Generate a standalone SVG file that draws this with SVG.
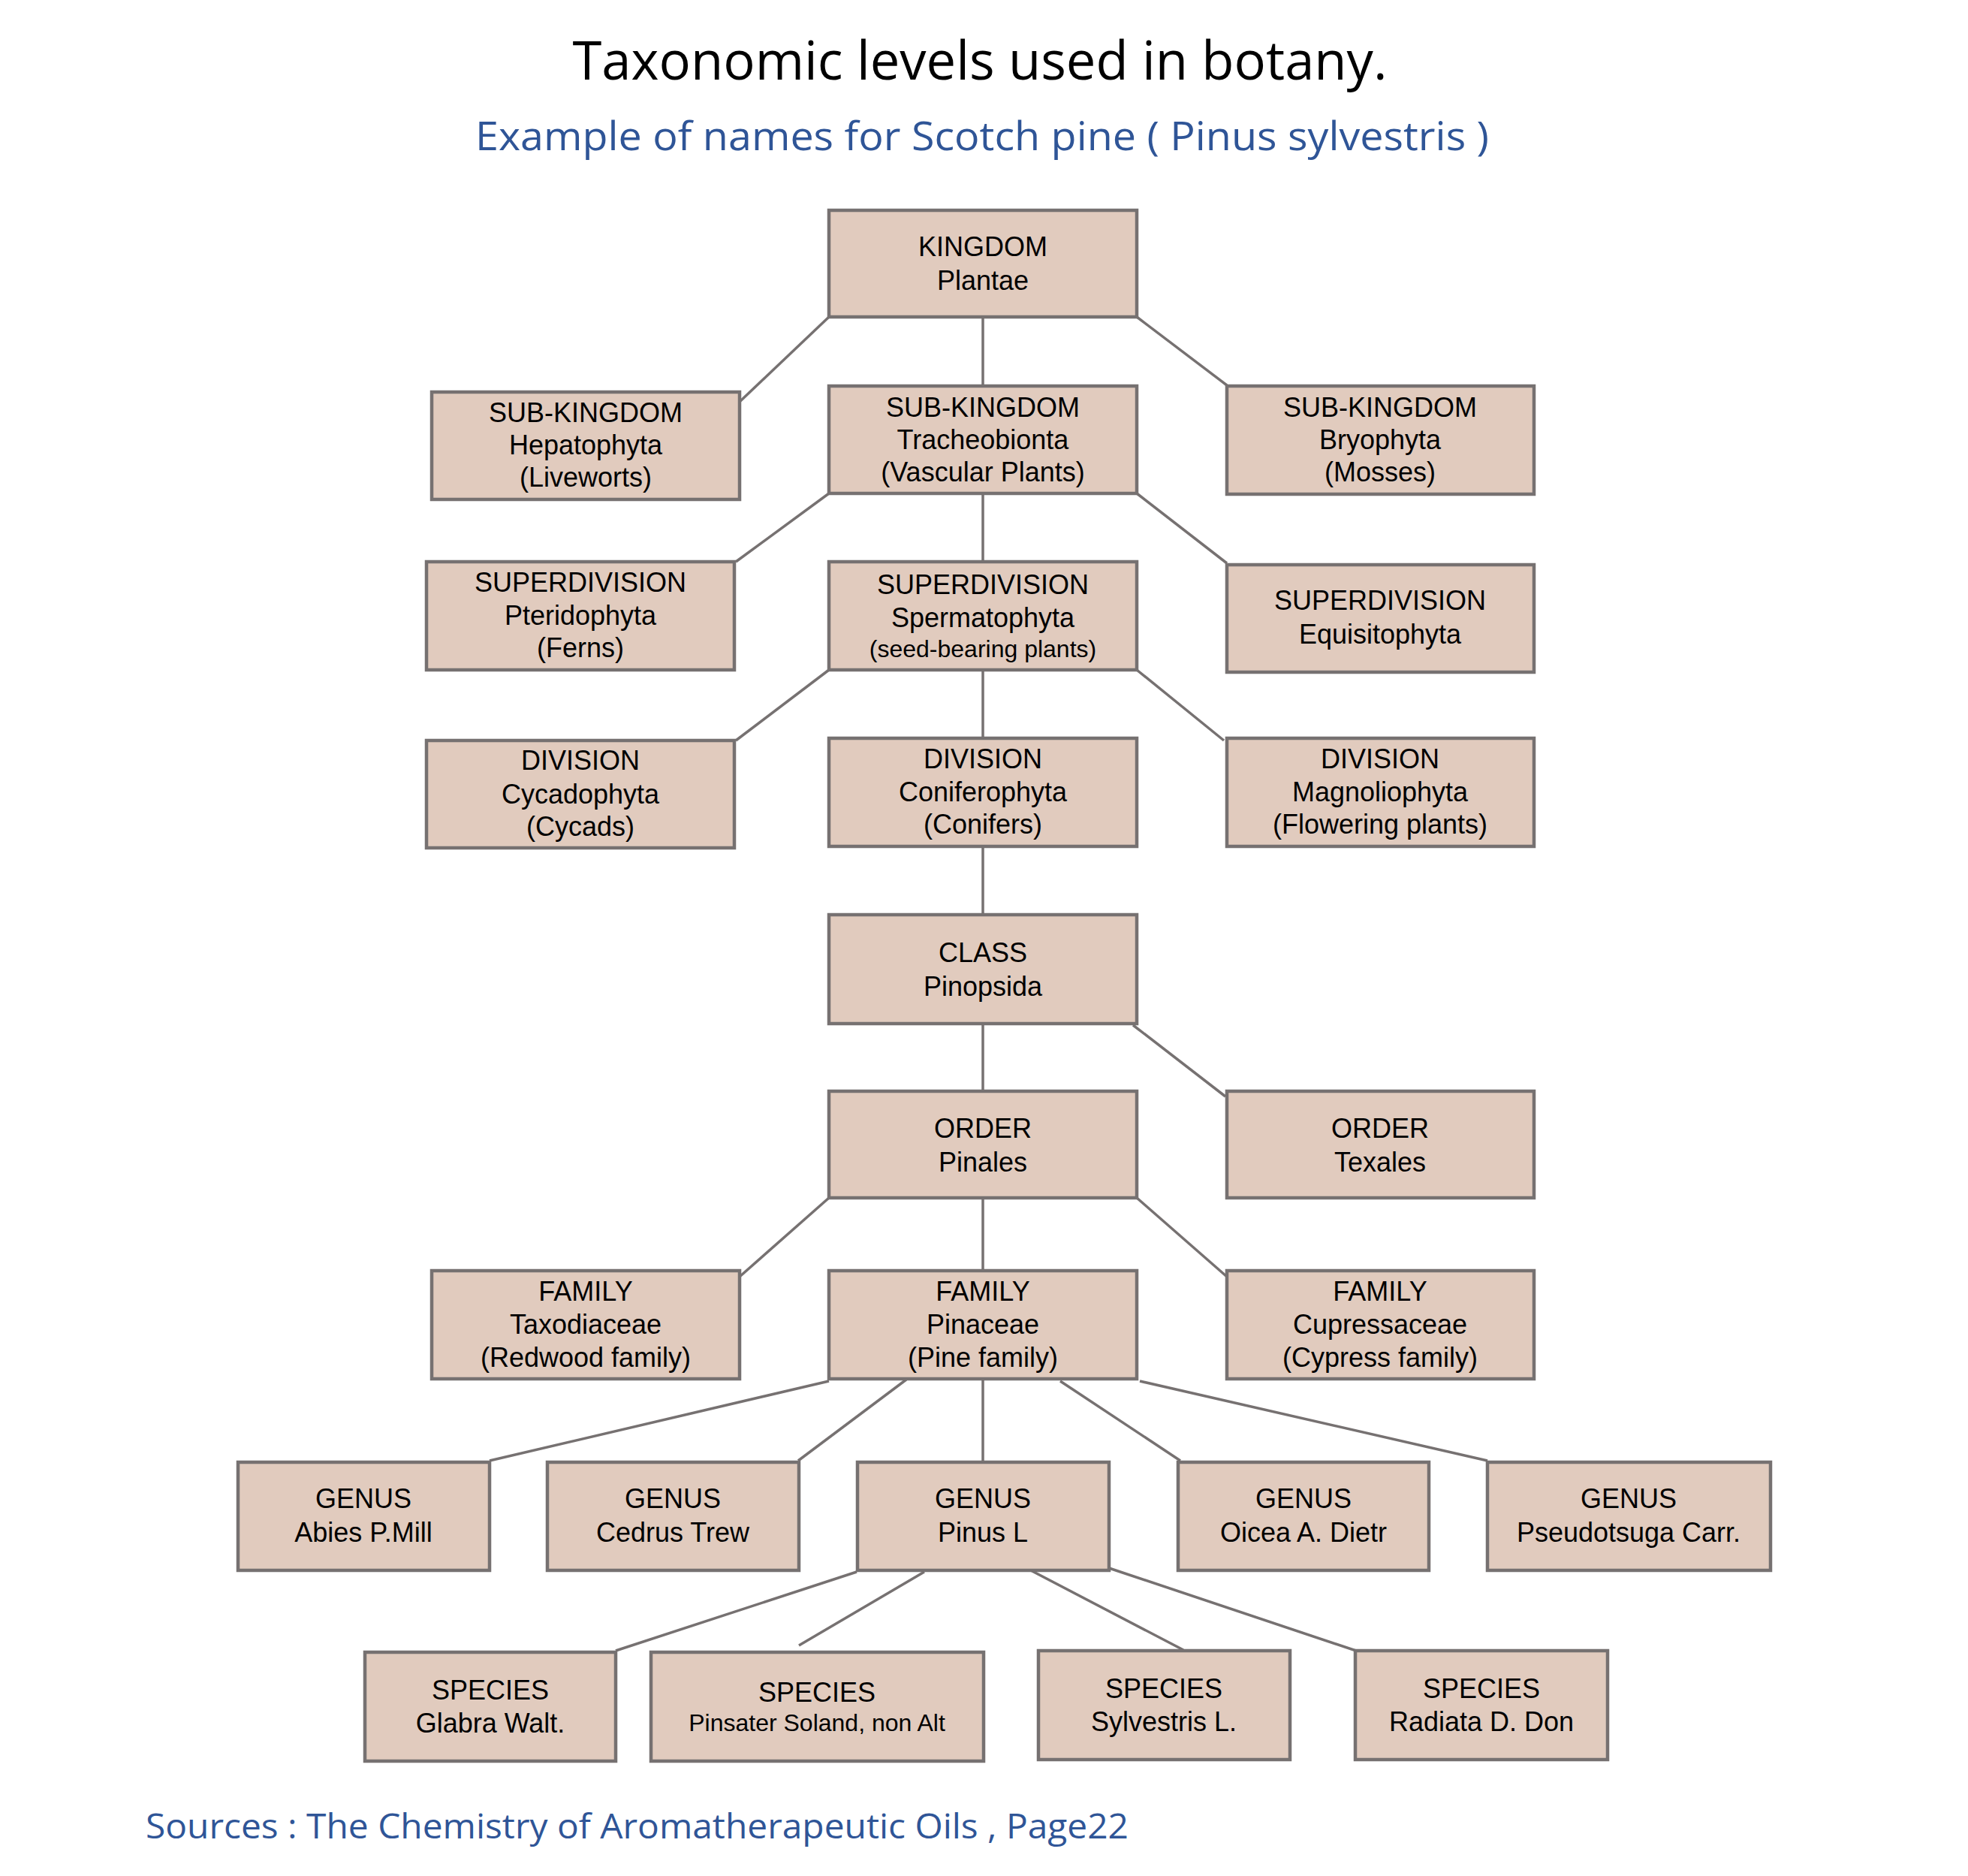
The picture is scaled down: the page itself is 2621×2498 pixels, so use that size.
<svg xmlns="http://www.w3.org/2000/svg" width="2621" height="2498" viewBox="0 0 2621 2498">
<style>
.box{fill:#e1cbbe;stroke:#767171;stroke-width:4.5}
.t{font-family:"Liberation Sans",Arial,sans-serif;font-size:36px;fill:#000;text-anchor:middle}
.s{font-size:32px}
.c{stroke:#767171;stroke-width:3.5;fill:none}
.hd{font-family:"Open Sans","Noto Sans",sans-serif;text-anchor:middle}
</style>
<rect width="2621" height="2498" fill="#fff"/>
<text class="hd" x="1305" y="106" font-size="71" fill="#000" textLength="1085" lengthAdjust="spacingAndGlyphs">Taxonomic levels used in botany.</text>
<text class="hd" x="1308" y="200" font-size="53" fill="#2f5597" textLength="1350" lengthAdjust="spacingAndGlyphs">Example of names for Scotch pine ( Pinus sylvestris )</text>
<g id="connectors">
<line class="c" x1="1104" y1="422" x2="985" y2="535"/>
<line class="c" x1="1309" y1="422" x2="1309" y2="514"/>
<line class="c" x1="1514" y1="422" x2="1634" y2="513"/>
<line class="c" x1="1104" y1="657" x2="980" y2="748"/>
<line class="c" x1="1309" y1="657" x2="1309" y2="748"/>
<line class="c" x1="1514" y1="657" x2="1634" y2="750"/>
<line class="c" x1="1104" y1="892" x2="980" y2="986"/>
<line class="c" x1="1309" y1="892" x2="1309" y2="983"/>
<line class="c" x1="1514" y1="892" x2="1630" y2="986"/>
<line class="c" x1="1309" y1="1127" x2="1309" y2="1218"/>
<line class="c" x1="1309" y1="1363" x2="1309" y2="1453"/>
<line class="c" x1="1509" y1="1365" x2="1632" y2="1460"/>
<line class="c" x1="1104" y1="1595" x2="985" y2="1700"/>
<line class="c" x1="1309" y1="1595" x2="1309" y2="1692"/>
<line class="c" x1="1514" y1="1595" x2="1634" y2="1700"/>
<line class="c" x1="1104" y1="1839" x2="652" y2="1945"/>
<line class="c" x1="1207" y1="1837" x2="1063" y2="1945"/>
<line class="c" x1="1309" y1="1836" x2="1309" y2="1947"/>
<line class="c" x1="1412" y1="1839" x2="1572" y2="1945"/>
<line class="c" x1="1518" y1="1839" x2="1981" y2="1945"/>
<line class="c" x1="1141" y1="2093" x2="820" y2="2198"/>
<line class="c" x1="1231" y1="2093" x2="1064" y2="2191"/>
<line class="c" x1="1367" y1="2088" x2="1576" y2="2197"/>
<line class="c" x1="1477" y1="2088" x2="1818" y2="2202"/>
</g>
<g id="kingdom"><rect class="box" x="1104" y="280" width="410" height="142"/><text class="t" x="1309" y="341">KINGDOM</text><text class="t" x="1309" y="386">Plantae</text></g>
<g id="hepatophyta"><rect class="box" x="575" y="522" width="410" height="143"/><text class="t" x="780" y="562">SUB-KINGDOM</text><text class="t" x="780" y="605">Hepatophyta</text><text class="t" x="780" y="648">(Liveworts)</text></g>
<g id="tracheobionta"><rect class="box" x="1104" y="514" width="410" height="143"/><text class="t" x="1309" y="555">SUB-KINGDOM</text><text class="t" x="1309" y="598">Tracheobionta</text><text class="t" x="1309" y="641">(Vascular Plants)</text></g>
<g id="bryophyta"><rect class="box" x="1634" y="514" width="409" height="144"/><text class="t" x="1838" y="555">SUB-KINGDOM</text><text class="t" x="1838" y="598">Bryophyta</text><text class="t" x="1838" y="641">(Mosses)</text></g>
<g id="pteridophyta"><rect class="box" x="568" y="748" width="410" height="144"/><text class="t" x="773" y="788">SUPERDIVISION</text><text class="t" x="773" y="832">Pteridophyta</text><text class="t" x="773" y="875">(Ferns)</text></g>
<g id="spermatophyta"><rect class="box" x="1104" y="748" width="410" height="144"/><text class="t" x="1309" y="791">SUPERDIVISION</text><text class="t" x="1309" y="835">Spermatophyta</text><text class="t s" x="1309" y="875">(seed-bearing plants)</text></g>
<g id="equisitophyta"><rect class="box" x="1634" y="752" width="409" height="143"/><text class="t" x="1838" y="812">SUPERDIVISION</text><text class="t" x="1838" y="857">Equisitophyta</text></g>
<g id="cycadophyta"><rect class="box" x="568" y="986" width="410" height="143"/><text class="t" x="773" y="1025">DIVISION</text><text class="t" x="773" y="1070">Cycadophyta</text><text class="t" x="773" y="1113">(Cycads)</text></g>
<g id="coniferophyta"><rect class="box" x="1104" y="983" width="410" height="144"/><text class="t" x="1309" y="1023">DIVISION</text><text class="t" x="1309" y="1067">Coniferophyta</text><text class="t" x="1309" y="1110">(Conifers)</text></g>
<g id="magnoliophyta"><rect class="box" x="1634" y="983" width="409" height="144"/><text class="t" x="1838" y="1023">DIVISION</text><text class="t" x="1838" y="1067">Magnoliophyta</text><text class="t" x="1838" y="1110">(Flowering plants)</text></g>
<g id="class"><rect class="box" x="1104" y="1218" width="410" height="145"/><text class="t" x="1309" y="1281">CLASS</text><text class="t" x="1309" y="1326">Pinopsida</text></g>
<g id="pinales"><rect class="box" x="1104" y="1453" width="410" height="142"/><text class="t" x="1309" y="1515">ORDER</text><text class="t" x="1309" y="1560">Pinales</text></g>
<g id="texales"><rect class="box" x="1634" y="1453" width="409" height="142"/><text class="t" x="1838" y="1515">ORDER</text><text class="t" x="1838" y="1560">Texales</text></g>
<g id="taxodiaceae"><rect class="box" x="575" y="1692" width="410" height="144"/><text class="t" x="780" y="1732">FAMILY</text><text class="t" x="780" y="1776">Taxodiaceae</text><text class="t" x="780" y="1820">(Redwood family)</text></g>
<g id="pinaceae"><rect class="box" x="1104" y="1692" width="410" height="144"/><text class="t" x="1309" y="1732">FAMILY</text><text class="t" x="1309" y="1776">Pinaceae</text><text class="t" x="1309" y="1820">(Pine family)</text></g>
<g id="cupressaceae"><rect class="box" x="1634" y="1692" width="409" height="144"/><text class="t" x="1838" y="1732">FAMILY</text><text class="t" x="1838" y="1776">Cupressaceae</text><text class="t" x="1838" y="1820">(Cypress family)</text></g>
<g id="abies"><rect class="box" x="317" y="1947" width="335" height="144"/><text class="t" x="484" y="2008">GENUS</text><text class="t" x="484" y="2053">Abies P.Mill</text></g>
<g id="cedrus"><rect class="box" x="729" y="1947" width="335" height="144"/><text class="t" x="896" y="2008">GENUS</text><text class="t" x="896" y="2053">Cedrus Trew</text></g>
<g id="pinus"><rect class="box" x="1142" y="1947" width="335" height="144"/><text class="t" x="1309" y="2008">GENUS</text><text class="t" x="1309" y="2053">Pinus L</text></g>
<g id="oicea"><rect class="box" x="1569" y="1947" width="334" height="144"/><text class="t" x="1736" y="2008">GENUS</text><text class="t" x="1736" y="2053">Oicea A. Dietr</text></g>
<g id="pseudotsuga"><rect class="box" x="1981" y="1947" width="377" height="144"/><text class="t" x="2169" y="2008">GENUS</text><text class="t" x="2169" y="2053">Pseudotsuga Carr.</text></g>
<g id="glabra"><rect class="box" x="486" y="2200" width="334" height="145"/><text class="t" x="653" y="2263">SPECIES</text><text class="t" x="653" y="2307">Glabra Walt.</text></g>
<g id="pinsater"><rect class="box" x="867" y="2200" width="443" height="145"/><text class="t" x="1088" y="2266">SPECIES</text><text class="t s" x="1088" y="2305">Pinsater Soland, non Alt</text></g>
<g id="sylvestris"><rect class="box" x="1383" y="2198" width="335" height="145"/><text class="t" x="1550" y="2261">SPECIES</text><text class="t" x="1550" y="2305">Sylvestris L.</text></g>
<g id="radiata"><rect class="box" x="1805" y="2198" width="336" height="145"/><text class="t" x="1973" y="2261">SPECIES</text><text class="t" x="1973" y="2305">Radiata D. Don</text></g>
<text x="194" y="2448" font-family="Open Sans,Noto Sans,sans-serif" font-size="45" fill="#2f5597" textLength="1309" lengthAdjust="spacingAndGlyphs">Sources : The Chemistry of Aromatherapeutic Oils , Page22</text>
</svg>
